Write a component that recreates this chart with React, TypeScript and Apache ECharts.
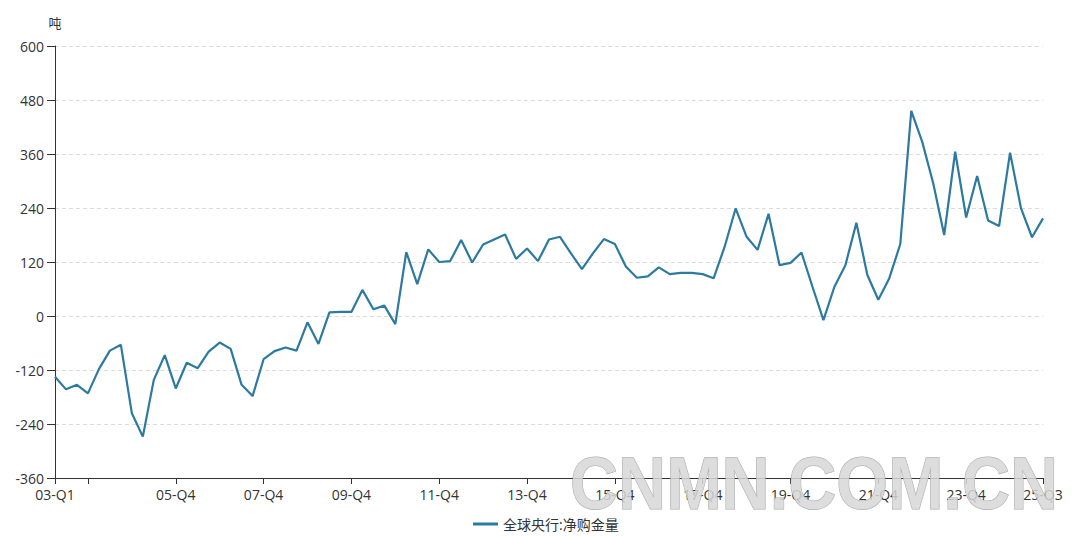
import React, { useEffect, useRef } from "react";
import * as echarts from "echarts";

const startYear = 3;
const endYear = 25;
const endQuarter = 3;
const categories: string[] = [];
for (let y = startYear; y <= endYear; y++) {
  for (let q = 1; q <= 4; q++) {
    if (y === endYear && q > endQuarter) break;
    categories.push(`${String(y).padStart(2, "0")}-Q${q}`);
  }
}

const seriesName = "全球央行:净购金量";
const unitName = "吨";

const netPurchases: number[] = [
  -135, -163, -153, -172, -118, -77, -64, -216, -268, -142,
  -87, -161, -104, -116, -79, -59, -73, -153, -178, -96,
  -78, -70, -77, -14, -62, 8, 9, 9, 58, 15,
  23, -18, 142, 71, 148, 120, 122, 169, 119, 159,
  170, 181, 127, 150, 122, 170, 176, 139, 104, 139,
  171, 160, 110, 85, 88, 108, 93, 96, 96, 93,
  84, 154, 239, 176, 147, 227, 113, 118, 141, 65,
  -9, 65, 113, 207, 91, 36, 84, 160, 456, 387,
  295, 180, 365, 219, 311, 212, 200, 363, 239, 175,
  217,
];

const yMin = -360;
const yMax = 600;
const yInterval = 120;

const watermark = "CNMN.COM.CN";

const FONT = "'Open Sans', 'Noto Sans CJK SC', sans-serif";

export default function App() {
  const ref = useRef<HTMLDivElement>(null);
  useEffect(() => {
    document.body.style.margin = "0";
    if (!ref.current) return;
    const chart = echarts.init(ref.current, undefined, { renderer: "svg" });
    const last = categories.length - 1;
    const showIdx = (i: number) => i === 0 || i === last || (i % 8 === 3 && i !== 3);
    const tickIdx = (i: number) => i === 0 || i === last || i % 8 === 3;
    chart.setOption({
      animation: false,
      textStyle: { fontFamily: FONT },
      grid: { left: 55, right: 37, top: 46, bottom: 58, containLabel: false },
      legend: {
        data: [seriesName],
        left: 468,
        top: 512,
        icon: "rect",
        itemWidth: 25,
        itemHeight: 3,
        itemGap: 10,
        textStyle: { fontSize: 14, color: "#333", fontFamily: FONT },
      },
      xAxis: {
        type: "category",
        data: categories,
        boundaryGap: false,
        axisLine: { onZero: false, lineStyle: { color: "#333", width: 1 } },
        axisTick: { show: true, length: 6, interval: (i: number) => tickIdx(i), lineStyle: { color: "#333" } },
        axisLabel: {
          interval: (i: number) => showIdx(i),
          color: "#333",
          fontSize: 14,
          margin: 9,
          fontFamily: FONT,
        },
        splitLine: { show: false },
      },
      yAxis: {
        type: "value",
        min: yMin,
        max: yMax,
        interval: yInterval,
        name: unitName,
        nameLocation: "end",
        nameGap: 17,
        nameTextStyle: { color: "#333", fontSize: 13, fontFamily: FONT },
        axisLine: { show: true, lineStyle: { color: "#333", width: 1 } },
        axisTick: { show: true, length: 8, lineStyle: { color: "#333" } },
        axisLabel: { color: "#333", fontSize: 14, margin: 11, fontFamily: FONT },
        splitLine: { show: true, lineStyle: { color: "#dcdcdc", type: [4, 3], width: 1 } },
      },
      series: [
        {
          name: seriesName,
          type: "line",
          data: netPurchases,
          symbol: "none",
          showSymbol: false,
          lineStyle: { color: "#2c7aa0", width: 2.2 },
          itemStyle: { color: "#2c7aa0" },
        },
      ],
      graphic: [
        {
          type: "text",
          x: 570,
          y: 446,
          scaleX: 0.9,
          z: 100,
          style: {
            text: watermark,
            fontFamily: "'Liberation Sans', Arial, sans-serif",
            fontWeight: "bold",
            fontSize: 74,
            fill: "rgba(215,215,215,0.85)",
            stroke: "rgba(150,150,150,0.8)",
            lineWidth: 1,
          },
        },
      ],
    });
    return () => chart.dispose();
  }, []);
  return <div ref={ref} style={{ width: 1080, height: 536 }} />;
}
